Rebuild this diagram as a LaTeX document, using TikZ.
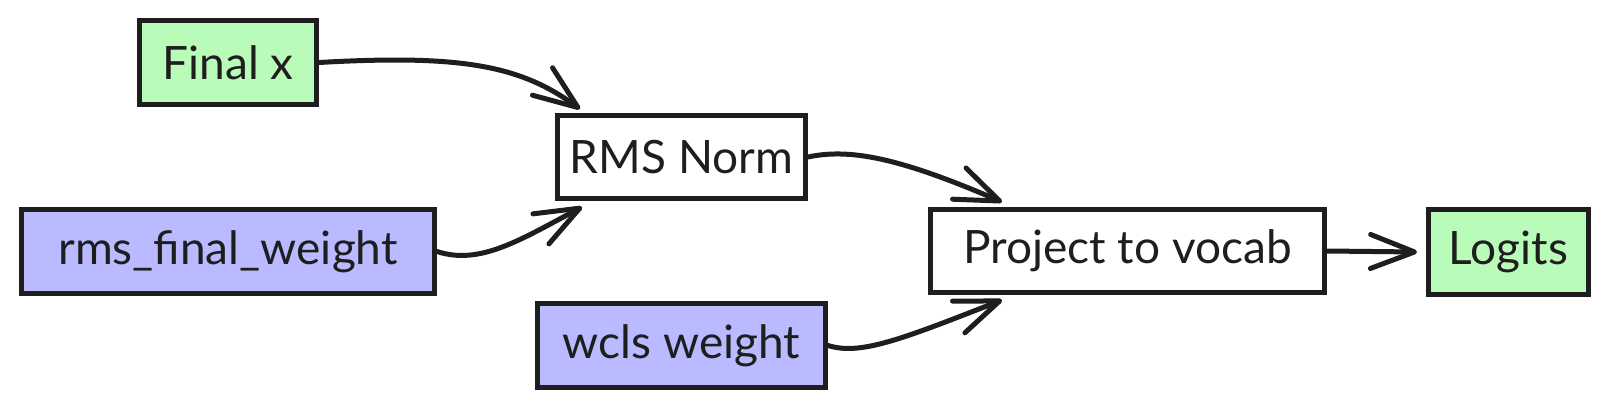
\documentclass[tikz,border=0pt]{standalone}
\usepackage{fontspec}
\setmainfont{Lato}
\usetikzlibrary{arrows.meta}
\definecolor{ink}{HTML}{1E1E1E}
\definecolor{greenfill}{HTML}{B9FBB9}
\definecolor{bluefill}{HTML}{B9BAFF}
\tikzset{
  box/.style={draw=ink, line width=5pt, text=ink, inner sep=0pt,
    font=\fontsize{46}{54}\selectfont},
  greenbox/.style={box, fill=greenfill},
  bluebox/.style={box, fill=bluefill},
  plainbox/.style={box, fill=white},
  link/.style={draw=ink, line width=5pt, line cap=round,
    -{Straight Barb[length=44pt,width=34pt,line width=5pt,round]}},
}
\begin{document}
\begin{tikzpicture}[x=1pt,y=-1pt]
\useasboundingbox (0,0) rectangle (1609,410);
\node[greenbox, minimum width=177pt, minimum height=84pt] (fx) at (228,62.5) {Final x};
\node[plainbox, minimum width=248pt, minimum height=83pt] (rms) at (681.5,157) {RMS Norm};
\node[bluebox, minimum width=413pt, minimum height=84pt] (rfw) at (228,251.5) {rms\_final\_weight};
\node[bluebox, minimum width=288pt, minimum height=84pt] (wcls) at (681.5,345.5) {wcls weight};
\node[plainbox, minimum width=394pt, minimum height=83pt] (proj) at (1127.5,251) {Project to vocab};
\node[greenbox, minimum width=160pt, minimum height=85pt] (logits) at (1508.5,252) {Logits};

\draw[link] (fx.east) .. controls +(141,-8) and +(-60,-44) .. ([xshift=25pt,yshift=4pt]rms.north west);
\draw[link] (rfw.east) .. controls +(43,14) and +(-62,33) .. ([xshift=27pt,yshift=-6pt]rms.south west);
\draw[link] (rms.east) .. controls +(42,-9) and +(-102,-44) .. ([xshift=74pt,yshift=5pt]proj.north west);
\draw[link] (wcls.east) .. controls +(32,10) and +(-102,40) .. ([xshift=74pt,yshift=-5pt]proj.south west);
\draw[link] (proj.east) -- ([xshift=-9pt]logits.west);
\end{tikzpicture}
\end{document}
